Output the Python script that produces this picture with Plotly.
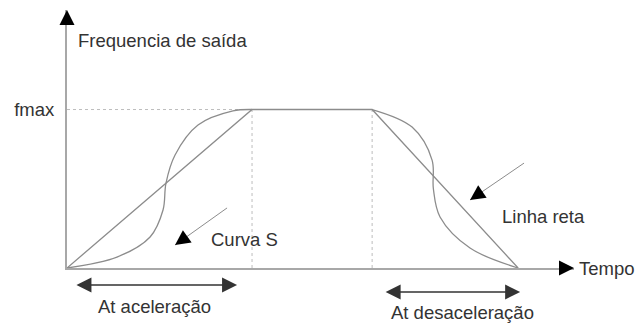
"""
Acceleration / deceleration profile: straight line vs S-curve.
Schematic of output frequency over time, redrawn with Plotly.
"""
import plotly.graph_objects as go

FONT = "Liberation Sans, Arial, sans-serif"
TXT_COLOR = "#333333"
CURVE_COLOR = "#8c8c8c"
AXIS_COLOR = "#a8a8a8"
GUIDE_COLOR = "#bdbdbd"

# time in arbitrary units, frequency in % of fmax
T_ACC = 10.0      # end of acceleration
T_DEC = 16.49     # start of deceleration
T_END = 24.38     # end of deceleration
F_MAX = 100.0

# straight-line profile
line_t = [0.0, T_ACC, T_DEC, T_END]
line_f = [0.0, F_MAX, F_MAX, 0.0]

# S-curve, acceleration part
s_acc_t = [0.0, 2.70, 4.49, 5.19, 5.35, 5.84, 7.08, 8.97, 10.0]
s_acc_f = [0.0, 6.9, 19.6, 36.6, 53.6, 71.3, 90.2, 99.1, 100.0]

# S-curve, deceleration part
s_dec_t = [16.49, 18.65, 19.73, 19.80, 20.16, 21.78, 24.38]
s_dec_f = [100.0, 88.9, 68.1, 50.0, 32.2, 12.6, 0.0]

X_MAX = 27.4
Y_MAX = 162.8

fig = go.Figure()

fig.add_trace(go.Scatter(x=line_t, y=line_f, mode="lines",
                         line=dict(color=CURVE_COLOR, width=1.3),
                         hoverinfo="skip", showlegend=False))
for t, f in [(s_acc_t, s_acc_f), (s_dec_t, s_dec_f)]:
    fig.add_trace(go.Scatter(x=t, y=f, mode="lines",
                             line=dict(color=CURVE_COLOR, width=1.3, shape="spline", smoothing=1.0),
                             hoverinfo="skip", showlegend=False))

# dotted guide lines
guide = dict(color=GUIDE_COLOR, width=1, dash="dot")
fig.add_shape(type="line", x0=0, x1=T_ACC, y0=F_MAX, y1=F_MAX, line=guide, layer="below")
fig.add_shape(type="line", x0=T_ACC, x1=T_ACC, y0=0, y1=F_MAX, line=guide, layer="below")
fig.add_shape(type="line", x0=T_DEC, x1=T_DEC, y0=0, y1=F_MAX, line=guide, layer="below")

# pointer lines (gray) for the two labels: tip, tail, head direction (px)
pointers = [((5.84, 14.5), (8.65, 37.9), (13.0, -9.3)),
            ((21.78, 42.9), (24.70, 66.2), (13.2, -9.0))]
for (tx, ty), (sx, sy), (ox, oy) in pointers:
    fig.add_shape(type="line", x0=tx, y0=ty, x1=sx, y1=sy,
                  line=dict(color="#8c8c8c", width=1))
    fig.add_annotation(x=tx, y=ty, ax=ox, ay=oy, text="", showarrow=True,
                       arrowhead=2, arrowsize=3, arrowwidth=1, arrowcolor="black")

# axis arrowheads
fig.add_annotation(x=0, y=1, xref="x", yref="paper", ax=0, ay=16, text="",
                   showarrow=True, arrowhead=2, arrowsize=3, arrowwidth=1, arrowcolor="black")
fig.add_annotation(x=1, y=0, xref="paper", yref="y", ax=-16, ay=0, text="",
                   showarrow=True, arrowhead=2, arrowsize=3, arrowwidth=1, arrowcolor="black")

# double arrows for acceleration / deceleration time
for (x0, x1, yp) in [(0.43, 9.19, -0.066), (17.14, 24.49, -0.093)]:
    fig.add_annotation(x=x1, y=yp, xref="x", yref="paper", ax=x0, ay=0, axref="x",
                       text="", showarrow=True, arrowside="end+start",
                       arrowhead=2, startarrowhead=2, arrowsize=2, startarrowsize=2,
                       arrowwidth=1.5, arrowcolor="#333333")

txt = dict(family=FONT, size=18.5, color=TXT_COLOR)
labels = [
    dict(text="Frequencia de saída", x=0.50, y=143.8, xref="x", yref="y", xanchor="left"),
    dict(text="Curva S", x=7.65, y=18.3, xref="x", yref="y", xanchor="left"),
    dict(text="Linha reta", x=23.40, y=32.2, xref="x", yref="y", xanchor="left"),
    dict(text="Tempo", x=1.006, y=0, xref="paper", yref="y", xanchor="left"),
    dict(text="At aceleração", x=4.73, y=-0.151, xref="x", yref="paper", xanchor="center"),
    dict(text="At desaceleração", x=21.38, y=-0.174, xref="x", yref="paper", xanchor="center"),
]
for lab in labels:
    fig.add_annotation(showarrow=False, yanchor="middle", font=txt, **lab)

fig.update_layout(
    width=637, height=323,
    margin=dict(l=67, r=63, t=10, b=55),
    paper_bgcolor="white", plot_bgcolor="white",
    xaxis=dict(range=[0, X_MAX], showline=True, linecolor=AXIS_COLOR, linewidth=2,
               showgrid=False, zeroline=False, showticklabels=False, ticks=""),
    yaxis=dict(range=[0, Y_MAX], showline=True, linecolor=AXIS_COLOR, linewidth=2,
               showgrid=False, zeroline=False, ticks="",
               tickvals=[F_MAX], ticktext=["fmax"], ticklabelstandoff=7,
               tickfont=txt),
    showlegend=False,
)

# the page's default body margin would shift the 637x323 figure off the window
fig.write_html("out.html", config={"displayModeBar": False},
               post_script="document.body.style.margin='0';")
